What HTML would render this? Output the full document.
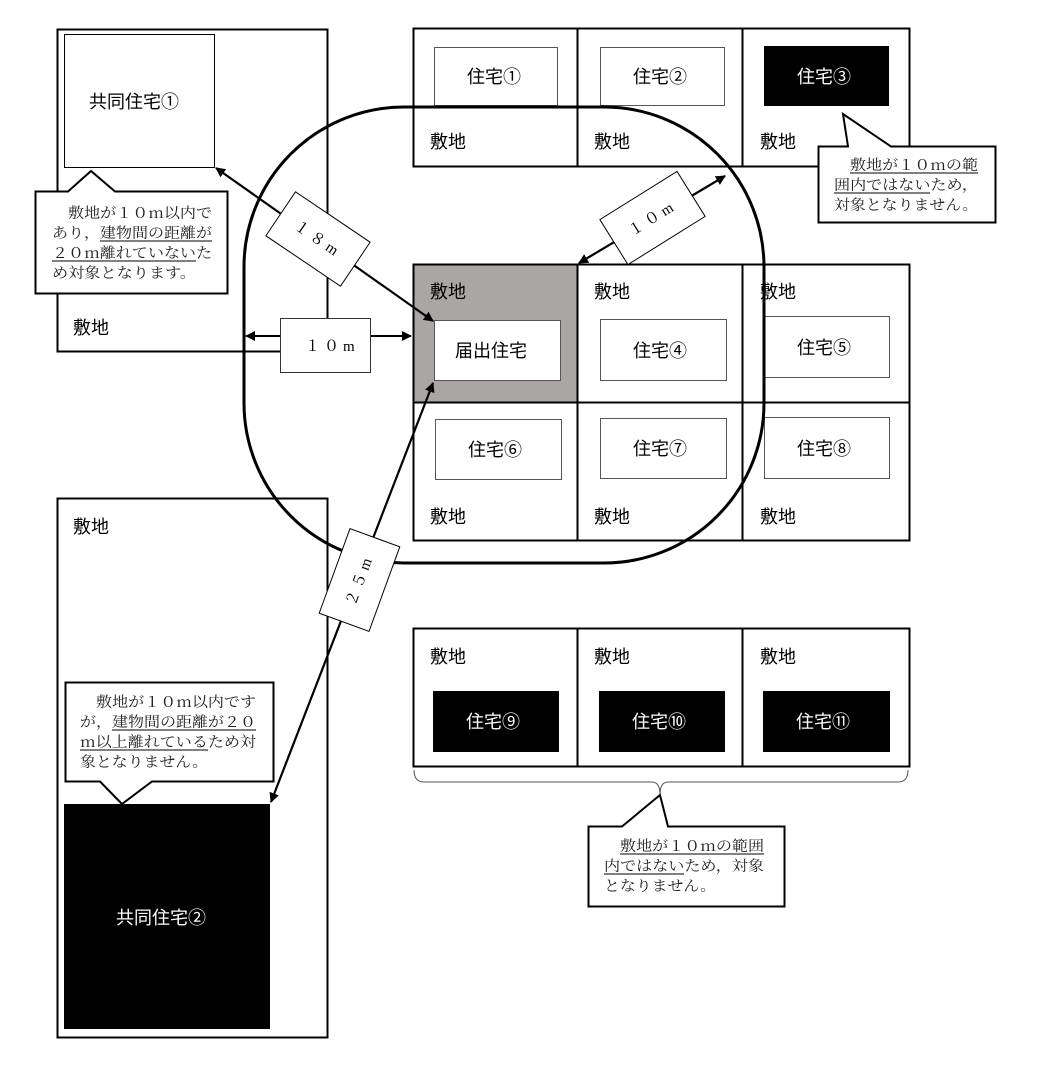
<!DOCTYPE html>
<html><head><meta charset="utf-8"><style>
html,body{margin:0;padding:0;background:#fff;}
svg{display:block;}
.g{font-family:"Noto Sans CJK JP","Liberation Sans",sans-serif;font-size:18px;fill:#000;}
.w{font-family:"Noto Sans CJK JP","Liberation Sans",sans-serif;font-size:18px;fill:#fff;}
.m{font-family:"Noto Serif CJK SC","Liberation Serif",serif;font-size:14.5px;fill:#222;}
.d{font-family:"Liberation Serif","Noto Serif CJK SC",serif;font-size:15px;fill:#000;}
</style></head><body>
<svg width="1044" height="1075" viewBox="0 0 1044 1075" xmlns="http://www.w3.org/2000/svg">
<defs>
<marker id="ah" markerWidth="10" markerHeight="10" refX="9" refY="5" orient="auto" markerUnits="userSpaceOnUse" viewBox="0 0 10 10">
<path d="M0,0 L10,5 L0,10 z" fill="#000"/></marker>
<marker id="as" markerWidth="10" markerHeight="10" refX="1" refY="5" orient="auto" markerUnits="userSpaceOnUse" viewBox="0 0 10 10">
<path d="M10,0 L0,5 L10,10 z" fill="#000"/></marker>
</defs>

<rect x="57.5" y="29.5" width="270" height="322" fill="#fff" stroke="#000" stroke-width="2"/>
<rect x="64.5" y="34.5" width="150" height="133" fill="#fff" stroke="#000" stroke-width="1"/>
<text class="g" x="89" y="108">共同住宅①</text>
<text class="g" x="73" y="334">敷地</text>

<rect x="57.5" y="498.5" width="270" height="539" fill="#fff" stroke="#000" stroke-width="2"/>
<text class="g" x="73" y="533">敷地</text>
<rect x="64" y="804" width="206" height="225" fill="#000"/>
<text class="w" x="116" y="924">共同住宅②</text>

<g stroke="#000" stroke-width="2" fill="#fff">
<rect x="413.5" y="28.5" width="164" height="138"/>
<rect x="577.5" y="28.5" width="165" height="138"/>
<rect x="742.5" y="28.5" width="167" height="138"/>
</g>
<rect x="434.5" y="47.5" width="123" height="58" fill="#fff" stroke="#555" stroke-width="1"/>
<rect x="600.5" y="47.5" width="124" height="58" fill="#fff" stroke="#555" stroke-width="1"/>
<rect x="764" y="46" width="125" height="60" fill="#000"/>
<text class="g" x="467" y="83">住宅①</text>
<text class="g" x="633" y="83">住宅②</text>
<text class="w" x="797" y="83">住宅③</text>
<text class="g" x="430" y="148">敷地</text>
<text class="g" x="594" y="148">敷地</text>
<text class="g" x="760" y="148">敷地</text>

<g stroke="#000" stroke-width="2">
<rect x="413.5" y="264.5" width="164" height="138" fill="#aaa6a5"/>
<rect x="577.5" y="264.5" width="165" height="138" fill="#fff"/>
<rect x="742.5" y="264.5" width="167" height="138" fill="#fff"/>
<rect x="413.5" y="402.5" width="164" height="138" fill="#fff"/>
<rect x="577.5" y="402.5" width="165" height="138" fill="#fff"/>
<rect x="742.5" y="402.5" width="167" height="138" fill="#fff"/>
</g>
<g fill="#fff" stroke="#555" stroke-width="1">
<rect x="434.5" y="320.5" width="126" height="60"/>
<rect x="600.5" y="319.5" width="126" height="61"/>
<rect x="764.5" y="316.5" width="125" height="61"/>
<rect x="435.5" y="419.5" width="126" height="60"/>
<rect x="600.5" y="418.5" width="126" height="60"/>
<rect x="764.5" y="417.5" width="125" height="61"/>
</g>
<text class="g" x="430" y="298">敷地</text>
<text class="g" x="594" y="298">敷地</text>
<text class="g" x="760" y="298">敷地</text>
<text class="g" x="455" y="357">届出住宅</text>
<text class="g" x="633" y="357">住宅④</text>
<text class="g" x="797" y="354">住宅⑤</text>
<text class="g" x="468" y="456">住宅⑥</text>
<text class="g" x="633" y="455">住宅⑦</text>
<text class="g" x="797" y="455">住宅⑧</text>
<text class="g" x="430" y="523">敷地</text>
<text class="g" x="594" y="523">敷地</text>
<text class="g" x="760" y="523">敷地</text>

<g stroke="#000" stroke-width="2" fill="#fff">
<rect x="413.5" y="628.5" width="164" height="138"/>
<rect x="577.5" y="628.5" width="165" height="138"/>
<rect x="742.5" y="628.5" width="167" height="138"/>
</g>
<rect x="433" y="691" width="126" height="61" fill="#000"/>
<rect x="599" y="691" width="126" height="61" fill="#000"/>
<rect x="763" y="691" width="127" height="61" fill="#000"/>
<text class="w" x="466" y="728">住宅⑨</text>
<text class="w" x="632" y="728">住宅⑩</text>
<text class="w" x="796" y="728">住宅⑪</text>
<text class="g" x="430" y="663">敷地</text>
<text class="g" x="594" y="663">敷地</text>
<text class="g" x="760" y="663">敷地</text>

<path d="M414,770 Q414,782 424,782 L652,782 Q660,782 660,795 Q660,782 668,782 L898,782 Q908,782 908,770" fill="none" stroke="#555" stroke-width="1"/>

<rect x="244" y="107" width="520" height="456" rx="160" ry="160" fill="none" stroke="#000" stroke-width="3"/>

<line x1="246" y1="336" x2="280" y2="336" stroke="#000" stroke-width="2" marker-start="url(#as)"/>
<line x1="370" y1="336" x2="411" y2="336" stroke="#000" stroke-width="2" marker-end="url(#ah)"/>
<line x1="244" y1="351.5" x2="282" y2="351.5" stroke="#000" stroke-width="2"/>
<rect x="280.5" y="318.5" width="90" height="54" fill="#fff" stroke="#333" stroke-width="1"/>
<text class="d" x="305" y="351" letter-spacing="4">１０m</text>

<line x1="216" y1="168" x2="433" y2="321" stroke="#000" stroke-width="2.2" marker-start="url(#as)" marker-end="url(#ah)"/>
<g transform="translate(318,239) rotate(34)">
<rect x="-45" y="-26.5" width="90" height="53" fill="#fff" stroke="#000" stroke-width="1"/>
<text class="d" x="0" y="5" text-anchor="middle" letter-spacing="4">１８m</text>
</g>

<line x1="579" y1="263" x2="725" y2="176" stroke="#000" stroke-width="2.2" marker-start="url(#as)" marker-end="url(#ah)"/>
<g transform="translate(652.5,218) rotate(-32)">
<rect x="-45.5" y="-26.5" width="91" height="53" fill="#fff" stroke="#000" stroke-width="1"/>
<text class="d" x="0" y="5" text-anchor="middle" letter-spacing="4">１０m</text>
</g>

<line x1="271" y1="802" x2="433" y2="383" stroke="#000" stroke-width="2.2" marker-start="url(#as)" marker-end="url(#ah)"/>
<g transform="translate(359.5,580) rotate(-70)">
<rect x="-45" y="-26.5" width="90" height="53" fill="#fff" stroke="#000" stroke-width="1"/>
<text class="d" x="0" y="5" text-anchor="middle" letter-spacing="4">２５m</text>
</g>

<!-- callout 1 -->
<path d="M35.5,191.5 L68,191.5 L91,171 L115,191.5 L227.5,191.5 L227.5,293.5 L35.5,293.5 Z" fill="#fff" stroke="#000" stroke-width="2"/>
<text class="m" x="52" y="218" textLength="160" lengthAdjust="spacingAndGlyphs">　敷地が１０m以内で</text>
<text class="m" x="52" y="238" textLength="160" lengthAdjust="spacingAndGlyphs">あり，建物間の距離が</text>
<text class="m" x="52" y="258" textLength="160" lengthAdjust="spacingAndGlyphs">２０m離れていないた</text>
<text class="m" x="52" y="278" textLength="144" lengthAdjust="spacingAndGlyphs">め対象となります。</text>
<line x1="100" y1="241" x2="212" y2="241" stroke="#000" stroke-width="1"/>
<line x1="52" y1="261" x2="196" y2="261" stroke="#000" stroke-width="1"/>

<!-- callout 3 -->
<path d="M818.5,146.5 L848,146.5 L843,114 L891,146.5 L995.5,146.5 L995.5,222.5 L818.5,222.5 Z" fill="#fff" stroke="#000" stroke-width="2"/>
<text class="m" x="834" y="170" textLength="144" lengthAdjust="spacingAndGlyphs">　敷地が１０mの範</text>
<text class="m" x="834" y="190" textLength="144" lengthAdjust="spacingAndGlyphs">囲内ではないため，</text>
<text class="m" x="834" y="210" textLength="144" lengthAdjust="spacingAndGlyphs">対象となりません。</text>
<line x1="850" y1="173" x2="978" y2="173" stroke="#000" stroke-width="1"/>
<line x1="834" y1="193" x2="930" y2="193" stroke="#000" stroke-width="1"/>

<!-- callout 2 -->
<path d="M65.5,682.5 L273.5,682.5 L273.5,781.5 L152,781.5 L122,804 L100,781.5 L65.5,781.5 Z" fill="#fff" stroke="#000" stroke-width="2"/>
<text class="m" x="80" y="707" textLength="176" lengthAdjust="spacingAndGlyphs">　敷地が１０m以内です</text>
<text class="m" x="80" y="727" textLength="176" lengthAdjust="spacingAndGlyphs">が，建物間の距離が２０</text>
<text class="m" x="80" y="747" textLength="176" lengthAdjust="spacingAndGlyphs">m以上離れているため対</text>
<text class="m" x="80" y="767" textLength="128" lengthAdjust="spacingAndGlyphs">象となりません。</text>
<line x1="112" y1="730" x2="256" y2="730" stroke="#000" stroke-width="1"/>
<line x1="80" y1="750" x2="208" y2="750" stroke="#000" stroke-width="1"/>

<!-- callout 4 -->
<path d="M588.5,826.5 L622,826.5 L660,795 L668,826.5 L784.5,826.5 L784.5,906.5 L588.5,906.5 Z" fill="#fff" stroke="#000" stroke-width="2"/>
<text class="m" x="604" y="851" textLength="160" lengthAdjust="spacingAndGlyphs">　敷地が１０mの範囲</text>
<text class="m" x="604" y="871" textLength="160" lengthAdjust="spacingAndGlyphs">内ではないため，対象</text>
<text class="m" x="604" y="891" textLength="112" lengthAdjust="spacingAndGlyphs">となりません。</text>
<line x1="620" y1="854" x2="764" y2="854" stroke="#000" stroke-width="1"/>
<line x1="604" y1="874" x2="684" y2="874" stroke="#000" stroke-width="1"/>
</svg>
</body></html>
